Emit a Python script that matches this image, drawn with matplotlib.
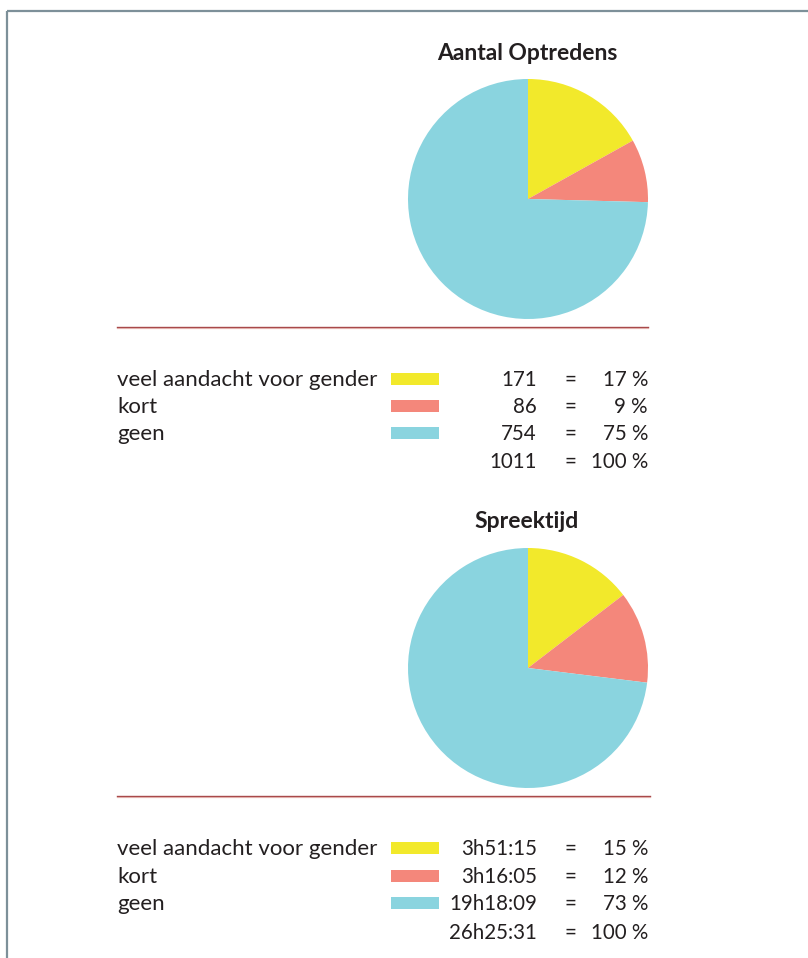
import matplotlib
matplotlib.use('Agg')
import matplotlib.pyplot as plt
from matplotlib.patches import Rectangle

plt.rcParams['font.family'] = ['Lato', 'DejaVu Sans']

# data
categories = ['veel aandacht voor gender', 'kort', 'geen']
colors = ['#f2e92b', '#f4877b', '#8ad4df']

optredens = [171, 86, 754]
optredens_pct = ['17 %', '9 %', '75 %']
optredens_total = '1011'

# spreektijd in seconds (3h51:15, 3h16:05, 19h18:09)
spreektijd = [3 * 3600 + 51 * 60 + 15, 3 * 3600 + 16 * 60 + 5, 19 * 3600 + 18 * 60 + 9]
spreektijd_labels = ['3h51:15', '3h16:05', '19h18:09']
spreektijd_pct = ['15 %', '12 %', '73 %']
spreektijd_total = '26h25:31'

W, H = 808, 958
fig = plt.figure(figsize=(W / 100, H / 100), dpi=100)

# overlay axes in pixel coordinates
bg = fig.add_axes([0, 0, 1, 1])
bg.set_xlim(0, W)
bg.set_ylim(H, 0)
bg.axis('off')

# frame
bg.plot([7, W], [11, 11], color='#7d9099', lw=1.6, solid_capstyle='butt')
bg.plot([7, 7], [11, H], color='#7d9099', lw=1.6, solid_capstyle='butt')

txt = '#231f20'
fs = 16
fn = 14.8  # number columns


def block(title, values, labels, pcts, total, cy, line_y, rows_y, line_x1):
    bg.text(527, cy - 146, title, ha='center', va='center', fontsize=16.5,
            fontweight='bold', color=txt)
    ax = fig.add_axes([408 / W, (H - cy - 120) / H, 240 / W, 240 / H])
    ax.pie(values, colors=colors, startangle=90, counterclock=False,
           wedgeprops=dict(linewidth=0))
    ax.set_xlim(-1, 1)
    ax.set_ylim(-1, 1)
    ax.set_aspect('auto')
    bg.plot([117, line_x1], [line_y + 1.2, line_y + 1.2], color='#f0c8c4', lw=0.9)
    bg.plot([117, line_x1], [line_y, line_y], color='#a8494a', lw=1.0)
    for i, cat in enumerate(categories):
        y = rows_y[i]
        bg.text(117, y + 1, cat, ha='left', va='center', fontsize=fs, color=txt)
        bg.add_patch(Rectangle((391, y - 6), 48, 12, color=colors[i], lw=0))
        bg.text(537, y + 1, labels[i], ha='right', va='center', fontsize=fn, color=txt)
        bg.text(570, y + 1, '=', ha='center', va='center', fontsize=fn, color=txt)
        bg.text(648, y + 1, pcts[i], ha='right', va='center', fontsize=fn, color=txt)
    y = rows_y[3]
    bg.text(537, y + 1, total, ha='right', va='center', fontsize=fn, color=txt)
    bg.text(570, y + 1, '=', ha='center', va='center', fontsize=fn, color=txt)
    bg.text(648, y + 1, '100 %', ha='right', va='center', fontsize=fn, color=txt)


block('Aantal Optredens', optredens, [str(v) for v in optredens], optredens_pct,
      optredens_total, 199, 327, [379, 406, 433, 461], 648)
block('Spreektijd', spreektijd, spreektijd_labels, spreektijd_pct,
      spreektijd_total, 668, 796, [848, 876, 903, 932], 650)

fig.savefig('out.png', dpi=100, facecolor='white')
